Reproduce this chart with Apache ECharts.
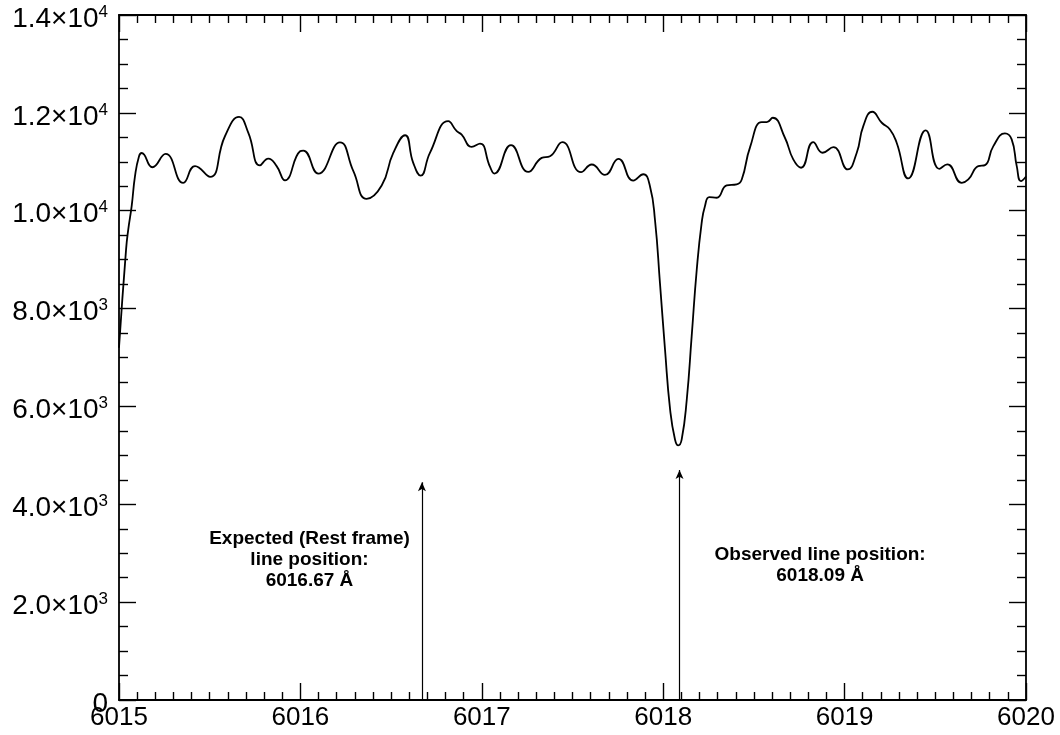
<!DOCTYPE html>
<html>
<head>
<meta charset="utf-8">
<script src="https://cdn.jsdelivr.net/npm/echarts@6/dist/echarts.min.js"></script>
<style>
  html, body { margin: 0; padding: 0; background: #fff; }
  #chart { width: 1060px; height: 735px; }
</style>
</head>
<body>
<div id="chart"></div>
<script>
// Spectrum around the line: wavelength (Å) and flux
const wavelength = [
  6015.000, 6015.039, 6015.051, 6015.070, 6015.088, 6015.110, 6015.125, 6015.184, 6015.257, 6015.354,
  6015.419, 6015.502, 6015.584, 6015.662, 6015.713, 6015.777, 6015.823, 6015.869, 6015.915, 6015.998,
  6016.016, 6016.099, 6016.218, 6016.292, 6016.365, 6016.448, 6016.512, 6016.577, 6016.622, 6016.663,
  6016.714, 6016.815, 6016.862, 6016.889, 6016.944, 6016.990, 6017.045, 6017.069, 6017.161, 6017.256,
  6017.330, 6017.376, 6017.444, 6017.547, 6017.606, 6017.679, 6017.753, 6017.835, 6017.890, 6017.927,
  6017.955, 6017.982, 6018.010, 6018.038, 6018.065, 6018.083, 6018.102, 6018.130, 6018.157, 6018.185,
  6018.212, 6018.230, 6018.254, 6018.295, 6018.350, 6018.405, 6018.433, 6018.479, 6018.543, 6018.571,
  6018.604, 6018.671, 6018.717, 6018.760, 6018.827, 6018.879, 6018.938, 6019.017, 6019.067, 6019.103,
  6019.153, 6019.205, 6019.250, 6019.287, 6019.351, 6019.447, 6019.522, 6019.566, 6019.646, 6019.682,
  6019.737, 6019.774, 6019.820, 6019.884, 6019.921, 6019.949, 6019.972, 6020.000
];
const flux = [
  7200, 9210, 9615, 10100, 10700, 11110, 11180, 10888, 11162, 10569,
  10911, 10692, 11522, 11918, 11591, 10927, 11066, 10911, 10622, 11216,
  11230, 10759, 11398, 10807, 10242, 10514, 11182, 11542, 10978, 10718,
  11182, 11829, 11625, 11557, 11305, 11373, 10900, 10759, 11339, 10793,
  11079, 11114, 11400, 10787, 10945, 10733, 11060, 10616, 10745, 10500,
  9800, 8527, 7164, 5938, 5325, 5202, 5325, 6142, 7436, 8799,
  9750, 10093, 10277, 10265, 10516, 10537, 10639, 11300, 11810, 11810,
  11900, 11491, 11048, 10878, 11401, 11185, 11299, 10843, 11185, 11729,
  12023, 11798, 11661, 11389, 10659, 11641, 10857, 10946, 10571, 10639,
  10911, 10931, 11320, 11579, 11457, 10911, 10604, 10700
];

// Line-position arrows and their notes
const arrowX = [6016.67, 6018.09];
const arrowTop = [4450, 4700];
const noteX = [6016.05, 6018.865];
const noteY = [2870, 2750];
const noteText = [
  'Expected (Rest frame)\nline position:\n6016.67 Å',
  'Observed line position:\n6018.09 Å'
];

// Axis ranges
const xMin = 6015, xMax = 6020, xStep = 1;
const yMin = 0, yMax = 14000, yStep = 2000;

const FONT = '"Liberation Sans", Arial, Helvetica, sans-serif';
const INK = '#000';

function sciLabel(v) {
  if (v === 0) return '{m|0}';
  const exp = Math.floor(Math.log10(v) + 1e-9);
  const mant = (v / Math.pow(10, exp)).toFixed(1);
  return '{m|' + mant + '×10}{e|' + exp + '}';
}

function xAxisDef(pos, showLabel) {
  return {
    type: 'value', position: pos, min: xMin, max: xMax, interval: xStep,
    axisLine: { show: true, onZero: false, lineStyle: { color: INK, width: 1.8 } },
    axisTick: { show: true, inside: true, length: 17, lineStyle: { color: INK, width: 1.4 } },
    minorTick: { show: true, splitNumber: 10, length: 8, lineStyle: { color: INK, width: 1.4 } },
    splitLine: { show: false }, minorSplitLine: { show: false },
    axisLabel: { show: showLabel, color: INK, fontFamily: FONT, fontSize: 26, margin: 5,
                 formatter: v => String(v),
                 showMinLabel: true, showMaxLabel: true, hideOverlap: false }
  };
}

function yAxisDef(pos, showLabel) {
  return {
    type: 'value', position: pos, min: yMin, max: yMax, interval: yStep,
    axisLine: { show: true, onZero: false, lineStyle: { color: INK, width: 1.8 } },
    axisTick: { show: true, inside: true, length: 17, lineStyle: { color: INK, width: 1.4 } },
    minorTick: { show: true, splitNumber: 4, length: 9, lineStyle: { color: INK, width: 1.4 } },
    splitLine: { show: false }, minorSplitLine: { show: false },
    axisLabel: {
      show: showLabel, margin: 11, formatter: sciLabel, padding: [8, 0, 0, 0],
      showMinLabel: true, showMaxLabel: true, hideOverlap: false,
      rich: {
        m: { fontFamily: FONT, fontSize: 28, color: INK, lineHeight: 31 },
        e: { fontFamily: FONT, fontSize: 17, color: INK, lineHeight: 17, verticalAlign: 'top' }
      }
    }
  };
}

const chart = echarts.init(document.getElementById('chart'), null, { renderer: 'canvas' });

chart.setOption({
  backgroundColor: '#fff',
  animation: false,
  grid: { left: 119, right: 34, top: 15, bottom: 35, containLabel: false, outerBoundsMode: 'none' },
  xAxis: [xAxisDef('bottom', true), xAxisDef('top', false)],
  yAxis: [yAxisDef('left', true), yAxisDef('right', false)],
  series: [
    {
      name: 'flux', type: 'line', xAxisIndex: 0, yAxisIndex: 0,
      data: wavelength.map((w, i) => [w, flux[i]]),
      smooth: 0.5, showSymbol: false, symbol: 'none',
      lineStyle: { color: INK, width: 1.8 },
      clip: true,
      markLine: {
        silent: true, symbol: ['none', 'arrow'], symbolSize: [6, 9],
        label: { show: false },
        lineStyle: { color: INK, width: 1.2, type: 'solid' },
        emphasis: { disabled: true },
        data: arrowX.map((x, i) => [{ coord: [x, yMin] }, { coord: [x, arrowTop[i]] }])
      },
      markPoint: {
        silent: true, symbol: 'circle', symbolSize: 0,
        itemStyle: { color: INK, opacity: 1 },
        label: {
          show: true, position: 'inside', align: 'center', verticalAlign: 'middle',
          formatter: p => p.data.note,
          fontFamily: FONT, fontWeight: 'bold', fontSize: 19, lineHeight: 21,
          color: INK, opacity: 1, textBorderWidth: 0
        },
        data: noteX.map((x, i) => ({ coord: [x, noteY[i]], note: noteText[i] }))
      }
    }
  ]
});
</script>
</body>
</html>
